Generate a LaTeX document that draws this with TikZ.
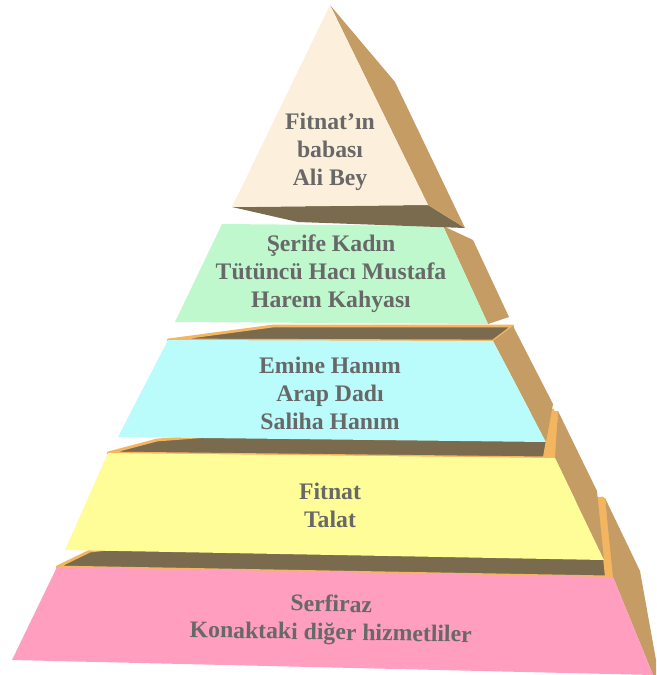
\documentclass[tikz,border=0pt]{standalone}
\usepackage{fontspec}
\setmainfont{Liberation Serif}

\begin{document}
\begin{tikzpicture}[x=0.02cm,y=-0.02cm,
		rightside/.style={fill=sidetan},
		lid/.style={fill=lidbrown,draw=rimorange,line width=1.6pt,line join=round},
		rimstrip/.style={fill=rimorange},
		tiertext/.style={text=textgray,font=\bfseries\fontsize{13.5}{16}\selectfont,align=center}]
					\definecolor{creamface}{HTML}{FCF0DC}
					\definecolor{greenface}{HTML}{BFF8CD}
					\definecolor{cyanface}{HTML}{BAFBFB}
					\definecolor{yellowface}{HTML}{FEFD97}
					\definecolor{pinkface}{HTML}{FF9EBF}
					\definecolor{sidetan}{HTML}{C59C63}
					\definecolor{lidbrown}{HTML}{7A6A4E}
					\definecolor{rimorange}{HTML}{F4B560}
					\definecolor{textgray}{HTML}{686868}
					\useasboundingbox (0,0) rectangle (656,675);
					\draw[lid] (57,567) -- (90,551) -- (603,498) -- (613,577) -- cycle;
					\fill[rimstrip] (597,499) -- (605,498) -- (614,577) -- (605,577) -- cycle;
					\fill[rightside] (613,577) -- (605,498) -- (640,571) -- (656,660) -- (656,675) -- (653,675) -- cycle;
					\fill[pinkface] (57,567) -- (613,577) -- (653,675) -- (12,660) -- cycle;
					\draw[lid] (108,453) -- (157,440) -- (553,410) -- (555,458) -- cycle;
					\fill[rimstrip] (551,411) -- (558,411) -- (556,458) -- (543,457) -- cycle;
					\fill[rightside] (555,458) -- (558,411) -- (597,491) -- (604,560) -- cycle;
					\fill[yellowface] (108,453) -- (555,458) -- (604,560) -- (65,550) -- cycle;
					\draw[lid] (168,340) -- (273,326) -- (513,326) -- (493,341) -- cycle;
					\fill[rightside] (493,341) -- (513,326) -- (553,404) -- (546,442) -- cycle;
					\fill[cyanface] (168,340) -- (493,341) -- (546,442) -- (118,437) -- cycle;
					\fill[rightside] (443,226) -- (473,240) -- (509,317) -- (488,324) -- cycle;
					\fill[greenface] (222,224) -- (443,226) -- (488,324) -- (175,322) -- cycle;
					\fill[lidbrown] (232,207) -- (428,205) -- (465,228) -- (298,222) -- cycle;
					\fill[rightside] (330,5) -- (395,82) -- (465,228) -- (428,205) -- cycle;
					\fill[creamface] (330,5) -- (428,205) -- (232,207) -- cycle;

					\node[tiertext] (apex) at (330,152) {Fitnat’ın\\babası\\Ali Bey};
					\node[tiertext] (second) at (331,274) {Şerife Kadın\\Tütüncü Hacı Mustafa\\Harem Kahyası};
					\node[tiertext] (third) at (330,393) {Emine Hanım\\Arap Dadı\\Saliha Hanım};
					\node[tiertext] (fourth) at (330,505) {Fitnat\\Talat};
					\node[tiertext,rotate=-1] (base) at (331,620) {Serfiraz\\Konaktaki diğer hizmetliler};
				\end{tikzpicture}
\end{document}
